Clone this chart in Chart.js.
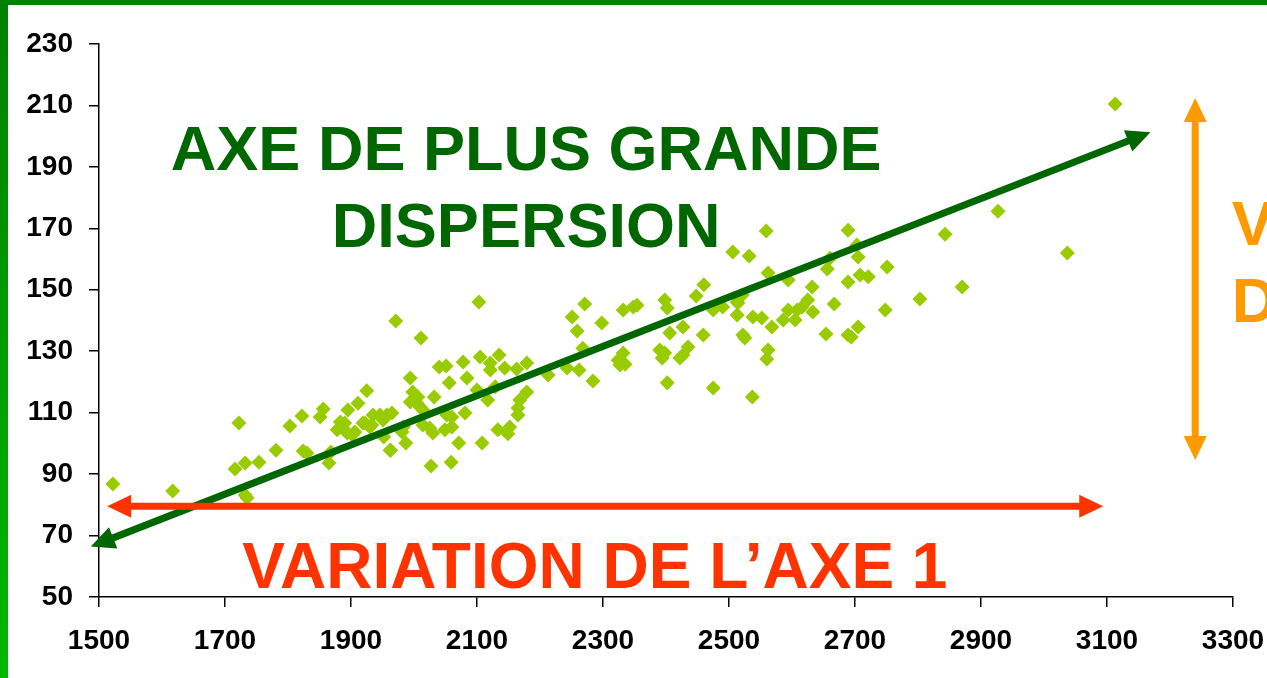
<!DOCTYPE html>
<html>
<head>
<meta charset="utf-8">
<title>Axe de plus grande dispersion</title>
<script src="https://cdn.jsdelivr.net/npm/chart.js@4.4.1/dist/chart.umd.min.js"></script>
<style>
  html, body { margin: 0; padding: 0; background: #fff; overflow: hidden; }
  #wrap { position: relative; width: 1267px; height: 678px; }
  #chart { position: absolute; left: 0; top: 0; }
  .frame-top { position: absolute; left: 0; top: 0; width: 1267px; height: 5px; background: #008000; }
  .frame-left { position: absolute; left: 0; top: 0; width: 8px; height: 678px;
                background: linear-gradient(#008000, #00b800); }
</style>
</head>
<body>
<div id="wrap">
  <canvas id="chart" width="1267" height="678"></canvas>
  <div class="frame-top"></div>
  <div class="frame-left"></div>
</div>
<script>
// scatter values
const xValues = [
  1522, 1617, 1722, 1716, 1732, 1732, 1735, 1754, 1781, 1803, 1822, 1824, 1830, 1851, 1856, 1865,
  1868, 1883, 1887, 1894, 1902, 1878, 1895, 1890,
  1911, 1925, 1919, 1930, 1935, 1946, 1954, 1965, 1952, 1963, 1987, 1994, 1998, 1994, 2005, 2006,
  1971, 2011, 1957, 1951, 2014, 2032, 2040, 2051, 2056, 2078, 2084, 1983, 1981, 2014, 2025, 2030,
  2049, 2060, 2052, 2060, 2081, 2027, 2059, 2071, 2010, 2100, 1922, 1933, 1962, 1906,
  2103, 2105, 2121, 2135, 2121, 2144, 2163, 2179, 2117, 2129, 2179, 2168, 2165, 2165, 2108, 2133,
  2152, 2149, 2213, 2243, 2262, 2284, 2251, 2271, 2259, 2298, 2268, 2324, 2327, 2332, 2332, 2335,
  2348, 2354, 2398, 2402, 2406, 2390, 2394, 2398, 2402, 2427, 2435, 2427, 2422, 2448, 2460, 2459,
  2475, 2475, 2490, 2513, 2513, 2514, 2521, 2506, 2532, 2522, 2525, 2537, 2538, 2552, 2559, 2562,
  2562, 2560, 2568,
  2586, 2594, 2594, 2605, 2608, 2616, 2625, 2632, 2633, 2656, 2660, 2654, 2667, 2689, 2689, 2689,
  2694, 2703, 2705, 2705, 2708, 2721, 2748, 2751,
  2803, 2843, 2870, 2927, 3037, 3113
];
const yValues = [
  86.8, 84.5, 106.6, 91.7, 93.6, 83.2, 82.2, 93.9, 97.8, 105.7, 108.9, 97.5, 96.9, 108.6, 111.2, 93.6,
  97.2, 107, 105, 103.4, 102.7, 104.4, 110.9, 106.6,
  113.1, 117.1, 106.6, 105.3, 109.2, 109.2, 108.6, 109.9, 102.1, 97.8, 100.1, 121.3, 116.7, 113.5, 113.1, 115.1,
  139.8, 134.3, 109.2, 107.6, 110.9, 115.1, 124.9, 125.2, 119.7, 126.5, 121.3, 105.3, 103.7, 106, 105, 103.4,
  104.4, 105.3, 109.2, 108.6, 109.9, 92.6, 93.9, 100.1, 111.8, 117.4, 106.6, 106, 97.8, 103.7,
  146, 128.1, 126.2, 128.8, 123.9, 124.5, 124.2, 126.2, 114.1, 118.4, 116.7, 114.1, 111.5, 109.2, 100.1, 104.4,
  105.3, 103.1, 122.3, 124.5, 123.9, 120.3, 141.1, 145.4, 136.6, 139.2, 131, 127.1, 125.5, 129.4, 143.4, 125.8,
  144.4, 145, 146.7, 144.1, 135.9, 130.4, 127.8, 129.4, 119.7, 137.9, 131.4, 128.8, 127.8, 148, 151.6, 135.3,
  118, 143.4, 144.4, 146, 141.8, 145.7, 148.3, 162.3, 161, 135.3, 134.3, 115.1, 141.1, 140.8, 169.1, 155.5,
  130.4, 127.5, 137.9,
  140.2, 153.2, 143.4, 140.2, 143.4, 144.4, 146.7, 150.9, 142.8, 156.8, 160.3, 135.6, 145.4, 169.4, 152.5, 135.3,
  134.6, 164.6, 160.7, 137.9, 154.8, 154.2, 143.4, 157.4,
  147, 168.1, 150.9, 175.6, 162, 210.5
];

// axis ticks
const xTicks = [1500, 1700, 1900, 2100, 2300, 2500, 2700, 2900, 3100, 3300];
const yTicks = [50, 70, 90, 110, 130, 150, 170, 190, 210, 230];

// annotation arrows, in data units [x1, y1, x2, y2]
const mainAxisArrow = [1487, 66.4, 3169, 201.3];
const axis1Arrow = [1513, 79.5, 3094, 79.5];
const axis2Arrow = [3240, 94.6, 3240, 212.4];

const points = xValues.map((x, i) => ({ x: x, y: yValues[i] }));

function drawArrow(ctx, x1, y1, x2, y2, color) {
  const head = 24, half = 11.5;
  const ang = Math.atan2(y2 - y1, x2 - x1);
  const cos = Math.cos(ang), sin = Math.sin(ang);
  ctx.save();
  ctx.strokeStyle = color;
  ctx.fillStyle = color;
  ctx.lineWidth = 7;
  ctx.beginPath();
  ctx.moveTo(x1 + cos * head * 0.8, y1 + sin * head * 0.8);
  ctx.lineTo(x2 - cos * head * 0.8, y2 - sin * head * 0.8);
  ctx.stroke();
  // both ends get a head
  [[x2, y2, 1], [x1, y1, -1]].forEach(function(p) {
    const tx = p[0], ty = p[1], d = p[2];
    const bx = tx - d * cos * head, by = ty - d * sin * head;
    ctx.beginPath();
    ctx.moveTo(tx, ty);
    ctx.lineTo(bx - sin * half, by + cos * half);
    ctx.lineTo(bx + sin * half, by - cos * half);
    ctx.closePath();
    ctx.fill();
  });
  ctx.restore();
}

const annotations = {
  id: 'annotations',
  afterDatasetsDraw(chart) {
    const ctx = chart.ctx;
    const xs = chart.scales.x, ys = chart.scales.y;
    const px = v => xs.getPixelForValue(v);
    const py = v => ys.getPixelForValue(v);

    drawArrow(ctx, px(mainAxisArrow[0]), py(mainAxisArrow[1]), px(mainAxisArrow[2]), py(mainAxisArrow[3]), '#006600');
    drawArrow(ctx, px(axis1Arrow[0]), py(axis1Arrow[1]), px(axis1Arrow[2]), py(axis1Arrow[3]), '#ff3300');
    drawArrow(ctx, px(axis2Arrow[0]), py(axis2Arrow[1]), px(axis2Arrow[2]), py(axis2Arrow[3]), '#ff9900');

    ctx.save();
    ctx.font = 'bold 63px Arial, "Liberation Sans", sans-serif';
    ctx.textBaseline = 'alphabetic';
    ctx.textAlign = 'center';
    ctx.fillStyle = '#006600';
    ctx.fillText('AXE DE PLUS GRANDE', px(2178), py(189));
    ctx.fillText('DISPERSION', px(2178), py(163.9));
    ctx.fillStyle = '#ff3300';
    ctx.font = 'bold 64px Arial, "Liberation Sans", sans-serif';
    ctx.fillText('VARIATION DE L\u2019AXE 1', px(2287), py(52.9));
    ctx.textAlign = 'left';
    ctx.fillStyle = '#ff9900';
    ctx.font = 'bold 63px Arial, "Liberation Sans", sans-serif';
    ctx.fillText('VARIATION', px(3298), py(164.6));
    ctx.fillText('DE L\u2019AXE 2', px(3298), py(139.5));
    ctx.restore();
  }
};

const tickFont = { family: 'Arial, "Liberation Sans", sans-serif', size: 28, weight: 'bold' };

new Chart(document.getElementById('chart'), {
  type: 'scatter',
  data: {
    datasets: [{
      data: points,
      pointStyle: 'rectRot',
      pointRadius: 7.5,
      pointHoverRadius: 7.5,
      backgroundColor: '#99cc00',
      borderColor: '#99cc00',
      borderWidth: 0
    }]
  },
  options: {
    responsive: false,
    animation: false,
    layout: { padding: { top: 44, right: 0, left: 0, bottom: 0 } },
    plugins: { legend: { display: false }, tooltip: { enabled: false } },
    scales: {
      x: {
        type: 'linear',
        min: 1500,
        max: 3300,
        afterBuildTicks: s => { s.ticks = xTicks.map(v => ({ value: v })); },
        afterFit: s => { s.height = 81; s.paddingLeft = 0; s.paddingRight = 34; },
        grid: { display: true, drawOnChartArea: false, drawTicks: true, tickLength: 10, color: '#000', lineWidth: 1.5 },
        border: { display: true, color: '#000', width: 1.5 },
        ticks: { color: '#000', font: tickFont, padding: 17, maxRotation: 0, autoSkip: false, callback: v => String(v) }
      },
      y: {
        type: 'linear',
        min: 50,
        max: 230,
        afterBuildTicks: s => { s.ticks = yTicks.map(v => ({ value: v })); },
        afterFit: s => { s.width = 99; },
        grid: { display: true, drawOnChartArea: false, drawTicks: true, tickLength: 10, color: '#000', lineWidth: 1.5 },
        border: { display: true, color: '#000', width: 1.5 },
        ticks: { color: '#000', font: tickFont, padding: 16, autoSkip: false, callback: v => String(v) }
      }
    }
  },
  plugins: [annotations]
});
</script>
</body>
</html>
